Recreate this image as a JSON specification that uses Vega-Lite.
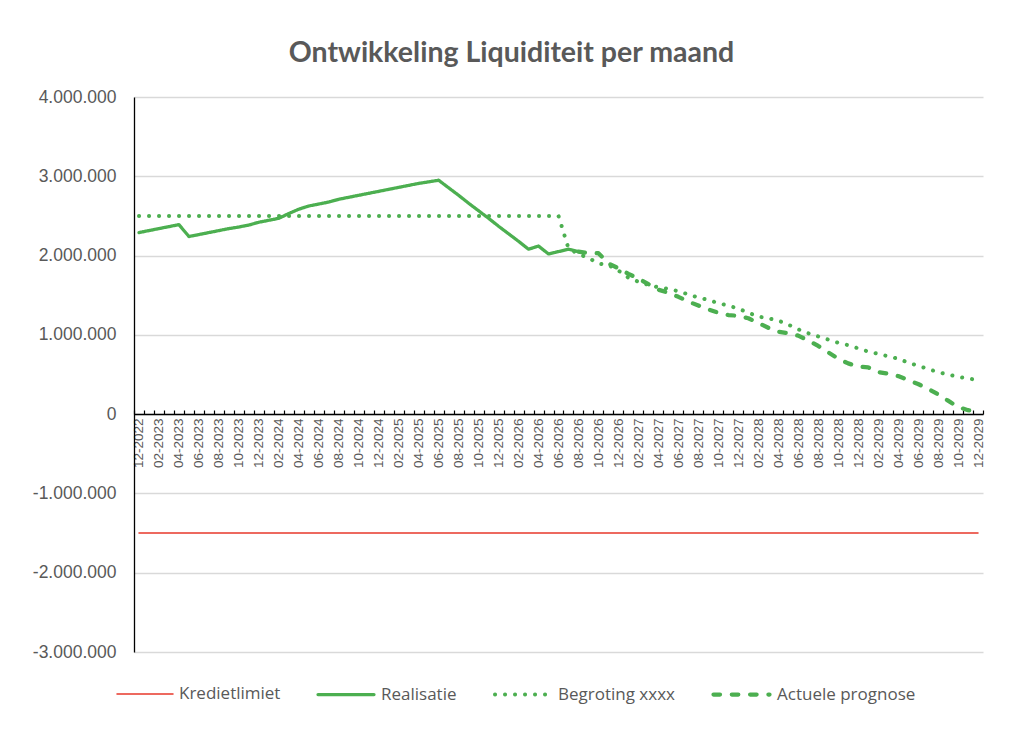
{
  "$schema": "https://vega.github.io/schema/vega-lite/v6.json",
  "width": 849,
  "height": 555,
  "autosize": {"type": "none"},
  "padding": {"left": 134, "top": 97, "right": 41, "bottom": 89},
  "background": "white",
  "title": {
    "text": "Ontwikkeling Liquiditeit per maand",
    "font": "Lato",
    "fontSize": 28.5,
    "fontWeight": "bold",
    "color": "#595959",
    "anchor": "middle",
    "frame": "group",
    "baseline": "alphabetic",
    "offset": 36,
    "dx": -47,
    "dy": 38
  },
  "data": {
    "values": [
      {"m": "12-2022", "Kredietlimiet": -1500000, "Realisatie": 2290000, "Begroting xxxx": 2500000},
      {"m": "01-2023", "Kredietlimiet": -1500000, "Realisatie": 2315000, "Begroting xxxx": 2500000},
      {"m": "02-2023", "Kredietlimiet": -1500000, "Realisatie": 2340000, "Begroting xxxx": 2500000},
      {"m": "03-2023", "Kredietlimiet": -1500000, "Realisatie": 2365000, "Begroting xxxx": 2500000},
      {"m": "04-2023", "Kredietlimiet": -1500000, "Realisatie": 2390000, "Begroting xxxx": 2500000},
      {"m": "05-2023", "Kredietlimiet": -1500000, "Realisatie": 2240000, "Begroting xxxx": 2500000},
      {"m": "06-2023", "Kredietlimiet": -1500000, "Realisatie": 2265000, "Begroting xxxx": 2500000},
      {"m": "07-2023", "Kredietlimiet": -1500000, "Realisatie": 2290000, "Begroting xxxx": 2500000},
      {"m": "08-2023", "Kredietlimiet": -1500000, "Realisatie": 2315000, "Begroting xxxx": 2500000},
      {"m": "09-2023", "Kredietlimiet": -1500000, "Realisatie": 2340000, "Begroting xxxx": 2500000},
      {"m": "10-2023", "Kredietlimiet": -1500000, "Realisatie": 2360000, "Begroting xxxx": 2500000},
      {"m": "11-2023", "Kredietlimiet": -1500000, "Realisatie": 2385000, "Begroting xxxx": 2500000},
      {"m": "12-2023", "Kredietlimiet": -1500000, "Realisatie": 2420000, "Begroting xxxx": 2500000},
      {"m": "01-2024", "Kredietlimiet": -1500000, "Realisatie": 2445000, "Begroting xxxx": 2500000},
      {"m": "02-2024", "Kredietlimiet": -1500000, "Realisatie": 2470000, "Begroting xxxx": 2500000},
      {"m": "03-2024", "Kredietlimiet": -1500000, "Realisatie": 2530000, "Begroting xxxx": 2500000},
      {"m": "04-2024", "Kredietlimiet": -1500000, "Realisatie": 2585000, "Begroting xxxx": 2500000},
      {"m": "05-2024", "Kredietlimiet": -1500000, "Realisatie": 2625000, "Begroting xxxx": 2500000},
      {"m": "06-2024", "Kredietlimiet": -1500000, "Realisatie": 2650000, "Begroting xxxx": 2500000},
      {"m": "07-2024", "Kredietlimiet": -1500000, "Realisatie": 2675000, "Begroting xxxx": 2500000},
      {"m": "08-2024", "Kredietlimiet": -1500000, "Realisatie": 2710000, "Begroting xxxx": 2500000},
      {"m": "09-2024", "Kredietlimiet": -1500000, "Realisatie": 2735000, "Begroting xxxx": 2500000},
      {"m": "10-2024", "Kredietlimiet": -1500000, "Realisatie": 2760000, "Begroting xxxx": 2500000},
      {"m": "11-2024", "Kredietlimiet": -1500000, "Realisatie": 2785000, "Begroting xxxx": 2500000},
      {"m": "12-2024", "Kredietlimiet": -1500000, "Realisatie": 2810000, "Begroting xxxx": 2500000},
      {"m": "01-2025", "Kredietlimiet": -1500000, "Realisatie": 2835000, "Begroting xxxx": 2500000},
      {"m": "02-2025", "Kredietlimiet": -1500000, "Realisatie": 2860000, "Begroting xxxx": 2500000},
      {"m": "03-2025", "Kredietlimiet": -1500000, "Realisatie": 2885000, "Begroting xxxx": 2500000},
      {"m": "04-2025", "Kredietlimiet": -1500000, "Realisatie": 2910000, "Begroting xxxx": 2500000},
      {"m": "05-2025", "Kredietlimiet": -1500000, "Realisatie": 2930000, "Begroting xxxx": 2500000},
      {"m": "06-2025", "Kredietlimiet": -1500000, "Realisatie": 2950000, "Begroting xxxx": 2500000},
      {"m": "07-2025", "Kredietlimiet": -1500000, "Realisatie": 2855000, "Begroting xxxx": 2500000},
      {"m": "08-2025", "Kredietlimiet": -1500000, "Realisatie": 2760000, "Begroting xxxx": 2500000},
      {"m": "09-2025", "Kredietlimiet": -1500000, "Realisatie": 2660000, "Begroting xxxx": 2500000},
      {"m": "10-2025", "Kredietlimiet": -1500000, "Realisatie": 2565000, "Begroting xxxx": 2500000},
      {"m": "11-2025", "Kredietlimiet": -1500000, "Realisatie": 2470000, "Begroting xxxx": 2500000},
      {"m": "12-2025", "Kredietlimiet": -1500000, "Realisatie": 2370000, "Begroting xxxx": 2500000},
      {"m": "01-2026", "Kredietlimiet": -1500000, "Realisatie": 2275000, "Begroting xxxx": 2500000},
      {"m": "02-2026", "Kredietlimiet": -1500000, "Realisatie": 2180000, "Begroting xxxx": 2500000},
      {"m": "03-2026", "Kredietlimiet": -1500000, "Realisatie": 2080000, "Begroting xxxx": 2500000},
      {"m": "04-2026", "Kredietlimiet": -1500000, "Realisatie": 2120000, "Begroting xxxx": 2500000},
      {"m": "05-2026", "Kredietlimiet": -1500000, "Realisatie": 2020000, "Begroting xxxx": 2500000},
      {"m": "06-2026", "Kredietlimiet": -1500000, "Realisatie": 2050000, "Begroting xxxx": 2500000},
      {"m": "07-2026", "Kredietlimiet": -1500000, "Realisatie": 2080000, "Begroting xxxx": 2090000},
      {"m": "08-2026", "Kredietlimiet": -1500000, "Realisatie": 2050000, "Begroting xxxx": 2020000, "Actuele prognose": 2050000},
      {"m": "09-2026", "Kredietlimiet": -1500000, "Begroting xxxx": 1970000, "Actuele prognose": 2030000},
      {"m": "10-2026", "Kredietlimiet": -1500000, "Begroting xxxx": 1900000, "Actuele prognose": 2030000},
      {"m": "11-2026", "Kredietlimiet": -1500000, "Begroting xxxx": 1880000, "Actuele prognose": 1900000},
      {"m": "12-2026", "Kredietlimiet": -1500000, "Begroting xxxx": 1810000, "Actuele prognose": 1840000},
      {"m": "01-2027", "Kredietlimiet": -1500000, "Begroting xxxx": 1720000, "Actuele prognose": 1770000},
      {"m": "02-2027", "Kredietlimiet": -1500000, "Begroting xxxx": 1670000, "Actuele prognose": 1710000},
      {"m": "03-2027", "Kredietlimiet": -1500000, "Begroting xxxx": 1630000, "Actuele prognose": 1640000},
      {"m": "04-2027", "Kredietlimiet": -1500000, "Begroting xxxx": 1600000, "Actuele prognose": 1570000},
      {"m": "05-2027", "Kredietlimiet": -1500000, "Begroting xxxx": 1580000, "Actuele prognose": 1530000},
      {"m": "06-2027", "Kredietlimiet": -1500000, "Begroting xxxx": 1550000, "Actuele prognose": 1480000},
      {"m": "07-2027", "Kredietlimiet": -1500000, "Begroting xxxx": 1510000, "Actuele prognose": 1420000},
      {"m": "08-2027", "Kredietlimiet": -1500000, "Begroting xxxx": 1470000, "Actuele prognose": 1370000},
      {"m": "09-2027", "Kredietlimiet": -1500000, "Begroting xxxx": 1440000, "Actuele prognose": 1320000},
      {"m": "10-2027", "Kredietlimiet": -1500000, "Begroting xxxx": 1400000, "Actuele prognose": 1280000},
      {"m": "11-2027", "Kredietlimiet": -1500000, "Begroting xxxx": 1370000, "Actuele prognose": 1250000},
      {"m": "12-2027", "Kredietlimiet": -1500000, "Begroting xxxx": 1330000, "Actuele prognose": 1240000},
      {"m": "01-2028", "Kredietlimiet": -1500000, "Begroting xxxx": 1280000, "Actuele prognose": 1210000},
      {"m": "02-2028", "Kredietlimiet": -1500000, "Begroting xxxx": 1230000, "Actuele prognose": 1150000},
      {"m": "03-2028", "Kredietlimiet": -1500000, "Begroting xxxx": 1210000, "Actuele prognose": 1090000},
      {"m": "04-2028", "Kredietlimiet": -1500000, "Begroting xxxx": 1180000, "Actuele prognose": 1040000},
      {"m": "05-2028", "Kredietlimiet": -1500000, "Begroting xxxx": 1130000, "Actuele prognose": 1020000},
      {"m": "06-2028", "Kredietlimiet": -1500000, "Begroting xxxx": 1070000, "Actuele prognose": 990000},
      {"m": "07-2028", "Kredietlimiet": -1500000, "Begroting xxxx": 1020000, "Actuele prognose": 930000},
      {"m": "08-2028", "Kredietlimiet": -1500000, "Begroting xxxx": 980000, "Actuele prognose": 860000},
      {"m": "09-2028", "Kredietlimiet": -1500000, "Begroting xxxx": 940000, "Actuele prognose": 780000},
      {"m": "10-2028", "Kredietlimiet": -1500000, "Begroting xxxx": 900000, "Actuele prognose": 700000},
      {"m": "11-2028", "Kredietlimiet": -1500000, "Begroting xxxx": 870000, "Actuele prognose": 640000},
      {"m": "12-2028", "Kredietlimiet": -1500000, "Begroting xxxx": 830000, "Actuele prognose": 600000},
      {"m": "01-2029", "Kredietlimiet": -1500000, "Begroting xxxx": 790000, "Actuele prognose": 590000},
      {"m": "02-2029", "Kredietlimiet": -1500000, "Begroting xxxx": 760000, "Actuele prognose": 530000},
      {"m": "03-2029", "Kredietlimiet": -1500000, "Begroting xxxx": 730000, "Actuele prognose": 510000},
      {"m": "04-2029", "Kredietlimiet": -1500000, "Begroting xxxx": 700000, "Actuele prognose": 480000},
      {"m": "05-2029", "Kredietlimiet": -1500000, "Begroting xxxx": 650000, "Actuele prognose": 430000},
      {"m": "06-2029", "Kredietlimiet": -1500000, "Begroting xxxx": 610000, "Actuele prognose": 380000},
      {"m": "07-2029", "Kredietlimiet": -1500000, "Begroting xxxx": 570000, "Actuele prognose": 320000},
      {"m": "08-2029", "Kredietlimiet": -1500000, "Begroting xxxx": 530000, "Actuele prognose": 250000},
      {"m": "09-2029", "Kredietlimiet": -1500000, "Begroting xxxx": 500000, "Actuele prognose": 170000},
      {"m": "10-2029", "Kredietlimiet": -1500000, "Begroting xxxx": 470000, "Actuele prognose": 90000},
      {"m": "11-2029", "Kredietlimiet": -1500000, "Begroting xxxx": 450000, "Actuele prognose": 50000},
      {"m": "12-2029", "Kredietlimiet": -1500000, "Begroting xxxx": 430000, "Actuele prognose": 40000}
    ]
  },
  "transform": [
    {"fold": ["Kredietlimiet", "Realisatie", "Begroting xxxx", "Actuele prognose"], "as": ["serie", "waarde"]}
  ],
  "mark": {"type": "line", "strokeCap": "round", "strokeJoin": "round"},
  "encoding": {
    "x": {
      "field": "m",
      "type": "ordinal",
      "sort": null,
      "bandPosition": 0.5,
      "scale": {"type": "band", "paddingInner": 0, "paddingOuter": 0},
      "axis": {
        "title": null,
        "offset": -238,
        "domainColor": "#000000",
        "domainWidth": 1.3,
        "tickColor": "#000000",
        "tickWidth": 1.2,
        "tickSize": -4,
        "tickBand": "extent",
        "labelPadding": 8,
        "labelAngle": 270,
        "labelFont": "Liberation Sans",
        "labelFontSize": 13.5,
        "labelColor": "#595959",
        "labelOverlap": false,
        "labelExpr": "parseInt(substring(datum.label, 0, 2)) % 2 == 0 ? datum.label : ''",
        "grid": false
      }
    },
    "y": {
      "field": "waarde",
      "type": "quantitative",
      "scale": {"domain": [-3000000, 4000000], "nice": false},
      "axis": {
        "title": null,
        "values": [-3000000, -2000000, -1000000, 0, 1000000, 2000000, 3000000, 4000000],
        "format": ",.0f",
        "ticks": false,
        "domainColor": "#000000",
        "domainWidth": 1.3,
        "gridColor": "#d9d9d9",
        "gridWidth": 1.3,
        "labelPadding": 18,
        "labelFont": "Liberation Sans",
        "labelFontSize": 17.5,
        "labelColor": "#595959"
      }
    },
    "color": {
      "field": "serie",
      "type": "nominal",
      "scale": {
        "domain": ["Kredietlimiet", "Realisatie", "Begroting xxxx", "Actuele prognose"],
        "range": ["#e8382b", "#4caf50", "#4caf50", "#4caf50"]
      },
      "legend": {
        "title": null,
        "orient": "none",
        "legendX": -18,
        "legendY": 567,
        "direction": "horizontal",
        "symbolType": "stroke",
        "symbolSize": 3136,
        "columnPadding": 30,
        "labelOffset": 5,
        "labelFont": "Open Sans",
        "labelFontSize": 17,
        "labelColor": "#595959",
        "encode": {"symbols": {"update": {"strokeCap": {"value": "round"}}}}
      }
    },
    "strokeDash": {
      "field": "serie",
      "type": "nominal",
      "scale": {
        "domain": ["Kredietlimiet", "Realisatie", "Begroting xxxx", "Actuele prognose"],
        "range": [[1, 0], [1, 0], [0.1, 9.9], [6.5, 11.8]]
      },
      "legend": {"title": null}
    },
    "strokeWidth": {
      "field": "serie",
      "type": "nominal",
      "scale": {
        "type": "ordinal",
        "domain": ["Kredietlimiet", "Realisatie", "Begroting xxxx", "Actuele prognose"],
        "range": [1.5, 3.25, 4, 4.25]
      },
      "legend": {"title": null}
    }
  },
  "config": {
    "view": {"stroke": null},
    "locale": {
      "number": {"decimal": ",", "thousands": ".", "grouping": [3], "currency": ["€", ""], "minus": "-"}
    }
  }
}
